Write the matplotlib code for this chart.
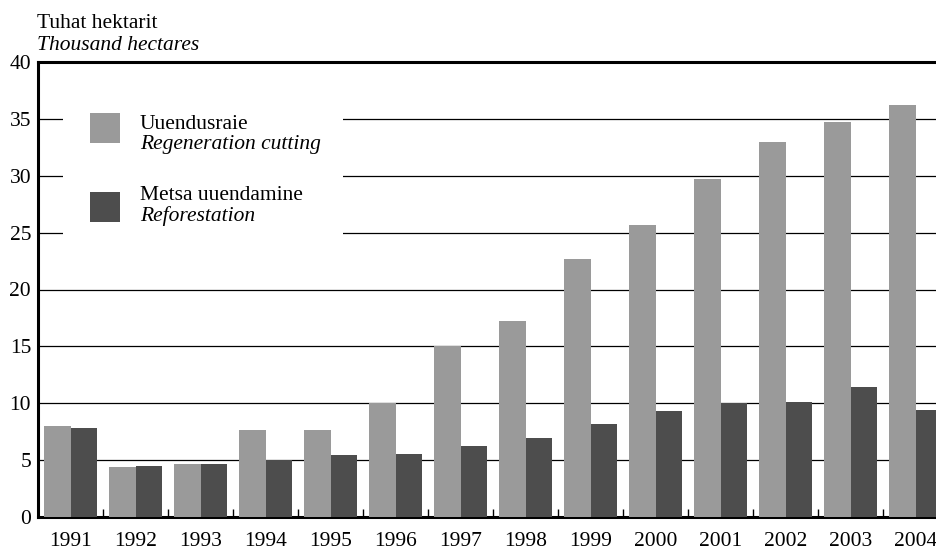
import numpy as np
import matplotlib
matplotlib.use("Agg")
import matplotlib.pyplot as plt
from matplotlib.patches import Rectangle

# data (thousand hectares)
years = ["1991", "1992", "1993", "1994", "1995", "1996", "1997",
         "1998", "1999", "2000", "2001", "2002", "2003", "2004"]
regeneration_cutting = [8.0, 4.4, 4.65, 7.65, 7.65, 10.0, 15.0,
                        17.2, 22.7, 25.7, 29.7, 33.0, 34.7, 36.2]
reforestation = [7.8, 4.5, 4.65, 5.0, 5.45, 5.55, 6.25,
                 6.95, 8.2, 9.3, 10.0, 10.1, 11.4, 9.4]

light = "#9a9a9a"
dark = "#4d4d4d"
fs = 15.5

plt.rcParams["font.family"] = ["Liberation Serif", "DejaVu Serif"]
plt.rcParams["font.size"] = fs

fig = plt.figure(figsize=(9.37, 5.53), dpi=100)
ax = fig.add_axes([38 / 937, 36 / 553, 1 - 38 / 937, 455 / 553])

x = np.arange(len(years))
w = 0.41
ax.bar(x - w / 2, regeneration_cutting, width=w, color=light, zorder=3)
ax.bar(x + w / 2, reforestation, width=w, color=dark, zorder=3)

ax.set_ylim(0, 40)
ax.set_xlim(-0.5, len(years) - 1 + 0.33)
ax.set_yticks(np.arange(0, 41, 5))
ax.set_xticks(x)
ax.set_xticklabels(years)
ax.set_xticks(x[:-1] + 0.5, minor=True)

for v in range(5, 40, 5):
    ax.axhline(v, color="black", lw=0.9, zorder=1)

ax.tick_params(axis="y", length=0, pad=5, labelsize=fs)
ax.tick_params(axis="x", which="major", length=0, pad=11, labelsize=fs)
ax.tick_params(axis="x", which="minor", length=6, width=1, direction="in")

for s in ["left", "bottom", "top"]:
    ax.spines[s].set_linewidth(2.2)
ax.spines["right"].set_visible(False)

# legend: white box over the gridlines, swatches and two-line labels
def px(xp, yp):
    # pixel coords in figure (from top-left) -> axes fraction
    return (xp - 38) / (937 - 38), (517 - yp) / 455

bx, by = px(63, 240)
bx2, by2 = px(343, 100)
ax.add_patch(Rectangle((bx, by), bx2 - bx, by2 - by, transform=ax.transAxes,
                       facecolor="white", edgecolor="none", zorder=2))

# (colour, line 1, line 2, swatch top, line 1 baseline, line 2 baseline) in pixels
entries = [(light, "Uuendusraie", "Regeneration cutting", 113, 129, 149),
           (dark, "Metsa uuendamine", "Reforestation", 192, 200, 221)]
for col, l1, l2, ytop, y1, y2 in entries:
    sx, sy = px(90, ytop + 30)
    sx2, sy2 = px(120, ytop)
    ax.add_patch(Rectangle((sx, sy), sx2 - sx, sy2 - sy, transform=ax.transAxes,
                           facecolor=col, edgecolor="none", zorder=4))
    tx, ty = px(140, y1)
    ax.text(tx, ty, l1, transform=ax.transAxes, va="baseline", ha="left",
            fontsize=fs, zorder=5)
    tx, ty = px(140, y2)
    ax.text(tx, ty, l2, transform=ax.transAxes, va="baseline", ha="left",
            fontsize=fs, style="italic", zorder=5)

fig.text(37 / 937, 1 - 28 / 553, "Tuhat hektarit", ha="left", va="baseline", fontsize=fs)
fig.text(37 / 937, 1 - 50 / 553, "Thousand hectares", ha="left", va="baseline",
         fontsize=fs, style="italic")

fig.savefig("out.png", dpi=100)
